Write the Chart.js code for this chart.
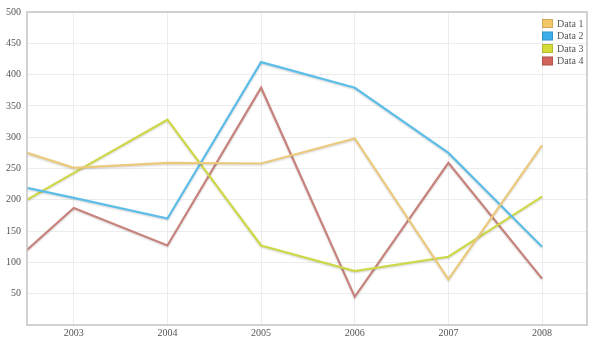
<!DOCTYPE html>
<html>
<head>
<meta charset="utf-8">
<script src="https://cdn.jsdelivr.net/npm/chart.js@4/dist/chart.umd.min.js"></script>
<style>
  html, body { margin: 0; padding: 0; background: #fff; }
  #wrap { width: 600px; height: 351px; position: relative; }
</style>
</head>
<body>
<div id="wrap"><canvas id="line_chart"></canvas></div>
<script>
// x positions (first point sits on the left edge of the plot)
const years = [2002.5, 2003, 2004, 2005, 2006, 2007, 2008];
const seriesNames = ["Data 1", "Data 2", "Data 3", "Data 4"];

const data1 = [275, 251, 259, 258, 298, 73, 287];
const data2 = [219, 203, 170, 420, 379, 275, 125];
const data3 = [200, 243, 328, 127, 86, 109, 205];
const data4 = [120, 187, 127, 379, 45, 259, 74];

const yTicks = [50, 100, 150, 200, 250, 300, 350, 400, 450, 500];

const lineColors = ["rgb(236,202,124)", "rgb(92,190,232)", "rgb(206,216,72)", "rgb(200,130,124)"];
const boxColors = ["#f2c768", "#3caeea", "#d5dc3a", "#d0645a"];

const FONT = "'Liberation Serif', 'DejaVu Serif', serif";

const toPoints = (vals) => vals.map((v, i) => ({ x: years[i], y: v }));

// shadow under each line + frame + legend inside the plot
const extras = {
  id: "extras",
  beforeDatasetDraw(chart) {
    const ctx = chart.ctx;
    ctx.save();
    ctx.shadowColor = "rgba(0,0,0,0.18)";
    ctx.shadowBlur = 2;
    ctx.shadowOffsetY = 1;
  },
  afterDatasetDraw(chart) {
    chart.ctx.restore();
  },
  afterDraw(chart) {
    const ctx = chart.ctx;
    const a = chart.chartArea;
    ctx.save();
    ctx.strokeStyle = "#c4c4c4";
    ctx.lineWidth = 1.5;
    ctx.strokeRect(a.left, a.top, a.right - a.left, a.bottom - a.top);

    ctx.font = "10px " + FONT;
    ctx.textBaseline = "middle";
    ctx.textAlign = "left";
    chart.data.datasets.forEach((ds, i) => {
      const bx = a.right - 45;
      const by = a.top + 7 + i * 12.5;
      ctx.fillStyle = boxColors[i];
      ctx.fillRect(bx, by, 11, 9);
      ctx.strokeStyle = "rgba(0,0,0,0.15)";
      ctx.lineWidth = 1;
      ctx.strokeRect(bx + 0.5, by + 0.5, 10, 8);
      ctx.fillStyle = "#555";
      ctx.fillText(ds.label, bx + 15, by + 5);
    });
    ctx.restore();
  },
};

const ctx = document.getElementById("line_chart").getContext("2d");

let configuration = {
  type: "line",
  data: {
    datasets: [data1, data2, data3, data4].map((vals, i) => ({
      label: seriesNames[i],
      data: toPoints(vals),
      borderColor: lineColors[i],
      backgroundColor: lineColors[i],
      borderWidth: 2.2,
      pointRadius: 0,
      tension: 0,
      fill: false,
    })),
  },
  options: {
    responsive: true,
    maintainAspectRatio: false,
    animation: false,
    layout: { padding: { top: 10, right: 13, left: 0, bottom: 10 } },
    plugins: {
      legend: { display: false },
      tooltip: { enabled: false },
    },
    scales: {
      x: {
        type: "linear",
        min: 2002.5,
        max: 2008.48,
        afterBuildTicks: (axis) => {
          axis.ticks = years.filter((y) => Number.isInteger(y)).map((y) => ({ value: y }));
        },
        grid: { color: "#ececec", lineWidth: 1, drawTicks: false },
        border: { display: false },
        ticks: {
          color: "#555",
          font: { family: FONT, size: 10 },
          padding: 2,
          maxRotation: 0,
          callback: (v) => String(v),
        },
      },
      y: {
        min: 0,
        max: 500,
        afterBuildTicks: (axis) => {
          axis.ticks = [0].concat(yTicks).map((v) => ({ value: v }));
        },
        grid: { color: "#ececec", lineWidth: 1, drawTicks: false },
        border: { display: false },
        ticks: {
          color: "#555",
          font: { family: FONT, size: 10 },
          padding: 6,
          callback: (v) => (v === 0 ? "" : String(v)),
        },
      },
    },
  },
  plugins: [extras],
};

const chart = new Chart(ctx, configuration);
</script>
</body>
</html>
